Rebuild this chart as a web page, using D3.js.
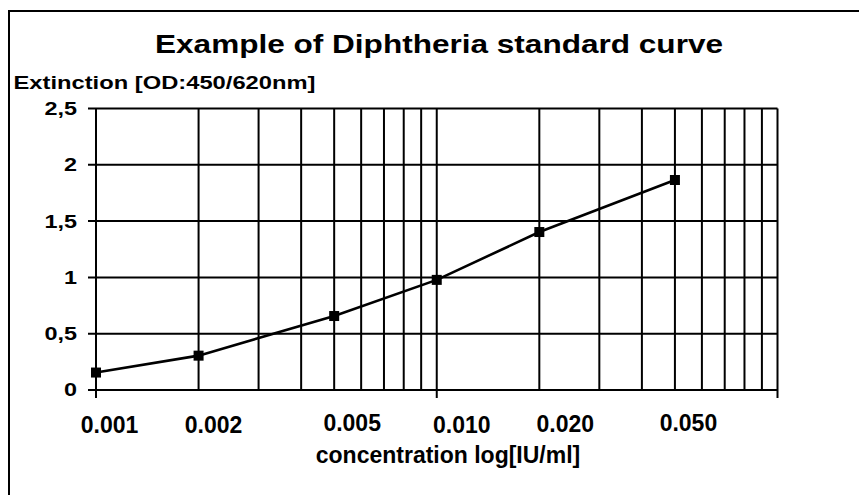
<!DOCTYPE html>
<html lang="en">
<head>
<meta charset="UTF-8">
<title>Example of Diphtheria standard curve</title>
<script src="https://d3js.org/d3.v7.min.js"></script>
<style>
    body { margin: 0; background: #fff; }
    svg text {
        font-family: "Liberation Sans", Arial, sans-serif;
        font-weight: bold;
        fill: #000;
    }
    .grid line { stroke: #000; stroke-width: 2px; }
</style>
</head>
<body>
<svg width="859" height="495"></svg>
<script>
    // data
    const concentrations = [0.001, 0.002, 0.005, 0.01, 0.02, 0.05];
    const extinction = [0.155, 0.305, 0.657, 0.978, 1.403, 1.865];

    const yTicks = [0, 0.5, 1, 1.5, 2, 2.5];
    const yTickLabels = ["0", "0,5", "1", "1,5", "2", "2,5"];
    const xTickValues = [0.001, 0.002, 0.005, 0.01, 0.02, 0.05];
    const xTickLabels = ["0.001", "0.002", "0.005", "0.010", "0.020", "0.050"];
    const xMajor = [0.001, 0.01, 0.1];

    // the x labels were placed by hand in the original, a bit off their lines
    const labelDx = [13.5, 15, 18, 25, 26, 13.5];
    const labelY = [433, 433, 431, 433, 432, 431];

    const svg = d3.select("svg");

    const x = d3.scaleLog().domain([0.001, 0.1]).range([96, 777.5]);
    const y = d3.scaleLinear().domain([0, 2.5]).range([390, 108.5]);

    // frame (only top and left edge visible)
    svg.append("line").attr("x1", 9).attr("x2", 9).attr("y1", 10).attr("y2", 495)
        .attr("stroke", "#000").attr("stroke-width", 2);
    svg.append("line").attr("x1", 8).attr("x2", 859).attr("y1", 11).attr("y2", 11)
        .attr("stroke", "#000").attr("stroke-width", 2);

    const grid = svg.append("g").attr("class", "grid");

    // vertical log grid
    grid.selectAll(".vg").data(x.ticks()).enter().append("line")
        .attr("x1", d => x(d)).attr("x2", d => x(d))
        .attr("y1", y(2.5)).attr("y2", y(0));

    // major ticks below the axis
    grid.selectAll(".mt").data(xMajor).enter().append("line")
        .attr("x1", d => x(d)).attr("x2", d => x(d))
        .attr("y1", y(0)).attr("y2", y(0) + 8);

    // horizontal grid + y ticks
    grid.selectAll(".hg").data(yTicks).enter().append("line")
        .attr("x1", x.range()[0] - 8).attr("x2", x.range()[1])
        .attr("y1", d => y(d)).attr("y2", d => y(d));

    // y tick labels (stretched like the original)
    svg.selectAll(".yl").data(yTicks).enter().append("text")
        .attr("transform", d => `translate(77,${y(d)}) scale(1.3,1)`)
        .attr("text-anchor", "end")
        .attr("dominant-baseline", "central")
        .attr("font-size", 18)
        .text((d, i) => yTickLabels[i]);

    // x tick labels
    svg.selectAll(".xl").data(xTickValues).enter().append("text")
        .attr("x", (d, i) => x(d) + labelDx[i])
        .attr("y", (d, i) => labelY[i])
        .attr("text-anchor", "middle")
        .attr("font-size", 23)
        .text((d, i) => xTickLabels[i]);

    // line + markers
    const pts = concentrations.map((c, i) => [c, extinction[i]]);
    svg.append("path")
        .datum(pts)
        .attr("fill", "none")
        .attr("stroke", "#000")
        .attr("stroke-width", 2.6)
        .attr("d", d3.line().x(d => x(d[0])).y(d => y(d[1])));

    svg.selectAll(".pt").data(pts).enter().append("rect")
        .attr("x", d => x(d[0]) - 5).attr("y", d => y(d[1]) - 5)
        .attr("width", 10).attr("height", 10)
        .attr("fill", "#000");

    // titles
    svg.append("text")
        .attr("x", 155).attr("y", 53)
        .attr("font-size", 25)
        .attr("textLength", 568).attr("lengthAdjust", "spacingAndGlyphs")
        .text("Example of Diphtheria standard curve");

    svg.append("text")
        .attr("x", 13.5).attr("y", 89)
        .attr("font-size", 19)
        .attr("textLength", 302).attr("lengthAdjust", "spacingAndGlyphs")
        .text("Extinction [OD:450/620nm]");

    svg.append("text")
        .attr("x", 448).attr("y", 463)
        .attr("text-anchor", "middle")
        .attr("font-size", 23)
        .text("concentration log[IU/ml]");
</script>
</body>
</html>
